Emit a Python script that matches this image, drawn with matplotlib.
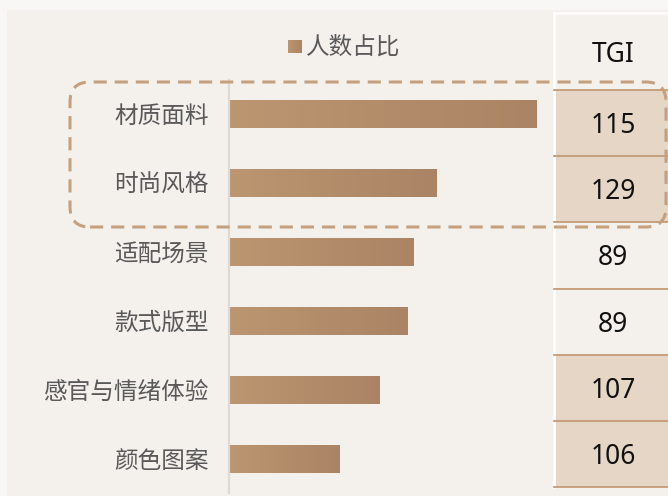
import numpy as np
import matplotlib
matplotlib.use('Agg')
import matplotlib.pyplot as plt
from matplotlib.colors import LinearSegmentedColormap
from matplotlib.patches import Rectangle, FancyBboxPatch
from matplotlib.lines import Line2D

plt.rcParams['font.family'] = ['Noto Sans CJK SC', 'DejaVu Sans']

# data
categories = ['材质面料', '时尚风格', '适配场景', '款式版型', '感官与情绪体验', '颜色图案']
share = [42.5, 28.7, 25.5, 24.6, 20.8, 15.2]
tgi = [115, 129, 89, 89, 107, 106]
legend_label = '人数占比'
tgi_header = 'TGI'

W, H = 668, 496
BG = '#f4f1ec'
OUTER = '#f8f7f5'
LABEL_COLOR = '#595959'
LINE_BROWN = '#c49c78'
CELL_FILL = '#e6d6c6'
bar_cmap = LinearSegmentedColormap.from_list('bar', ['#bc9571', '#aa8464'])


def fx(px):
    return px / W


def fy(py):
    # pixel rows are counted from the top
    return 1 - py / H


fig = plt.figure(figsize=(W / 100, H / 100), dpi=100, facecolor=OUTER)

# panel behind everything
fig.add_artist(Rectangle((fx(7), 0), 1 - fx(7), fy(10), transform=fig.transFigure,
                         facecolor=BG, edgecolor='none', zorder=0))

# bar chart
ax = fig.add_axes([fx(229), 1 - 493 / H, fx(555 - 229), (493 - 80) / H])
ax.set_facecolor('none')
y = np.arange(len(categories))
bars = ax.barh(y, share, height=0.41, color='none', edgecolor='none')
grad = np.linspace(0, 1, 256).reshape(1, -1)
for b in bars:
    x0, y0 = b.get_x(), b.get_y()
    im = ax.imshow(grad, extent=[x0, x0 + b.get_width(), y0 + b.get_height(), y0],
                   aspect='auto', cmap=bar_cmap, zorder=2)
    im.set_clip_path(b)
ax.set_xlim(0, 45)
ax.set_ylim(len(categories) - 0.507, -0.493)
for side in ['top', 'right', 'bottom']:
    ax.spines[side].set_visible(False)
ax.spines['left'].set_color('#dcdad7')
ax.spines['left'].set_linewidth(1.6)
ax.set_xticks([])
ax.set_yticks(y)
ax.set_yticklabels(categories, fontsize=17, color=LABEL_COLOR)
ax.tick_params(axis='y', length=0, pad=14.5)

# legend
lax = fig.add_axes([fx(288), fy(53), fx(14), 13 / H])
lax.imshow(grad, aspect='auto', cmap=bar_cmap, extent=[0, 1, 0, 1])
lax.axis('off')
fig.text(fx(306), fy(47), legend_label, fontsize=17, color=LABEL_COLOR,
         ha='left', va='center')

# TGI column
top, row_h = 90, (487 - 90) / len(tgi)
fig.add_artist(Line2D([fx(554), fx(554)], [fy(13), fy(487)], color='white', lw=1.8,
                      transform=fig.transFigure, zorder=3))
fig.add_artist(Line2D([fx(554), 1], [fy(13), fy(13)], color='white', lw=1.8,
                      transform=fig.transFigure, zorder=3))
fig.text(fx(613), fy(55), tgi_header, fontsize=19, family=['Noto Sans', 'DejaVu Sans'],
         color='#111111', ha='center', va='center')
for i, v in enumerate(tgi):
    r0 = top + i * row_h
    if v > 100:
        fig.add_artist(Rectangle((fx(556), fy(r0 + row_h)), 1 - fx(556), row_h / H,
                                 transform=fig.transFigure, facecolor=CELL_FILL,
                                 edgecolor='none', zorder=2))
    fig.text(fx(613), fy(r0 + row_h / 2 + 3), str(v), fontsize=19,
             family=['Noto Sans', 'DejaVu Sans'], color='#111111',
             ha='center', va='center', zorder=4)
for i in range(len(tgi) + 1):
    r = top + i * row_h
    fig.add_artist(Line2D([fx(554), 1], [fy(r), fy(r)], color=LINE_BROWN, lw=1.3,
                          transform=fig.transFigure, zorder=3))

# dashed frame around the leading rows
frame_bottom = 227
fig.add_artist(FancyBboxPatch((fx(70), fy(frame_bottom)), fx(666 - 70), (frame_bottom - 82) / H,
                              boxstyle='round,pad=0,rounding_size=0.03',
                              mutation_aspect=W / H,
                              transform=fig.transFigure, facecolor='none',
                              edgecolor='#c4a07f', lw=2.2, linestyle=(0, (4.3, 2.6)), zorder=5))

fig.savefig('out.png', dpi=100, facecolor=fig.get_facecolor())
